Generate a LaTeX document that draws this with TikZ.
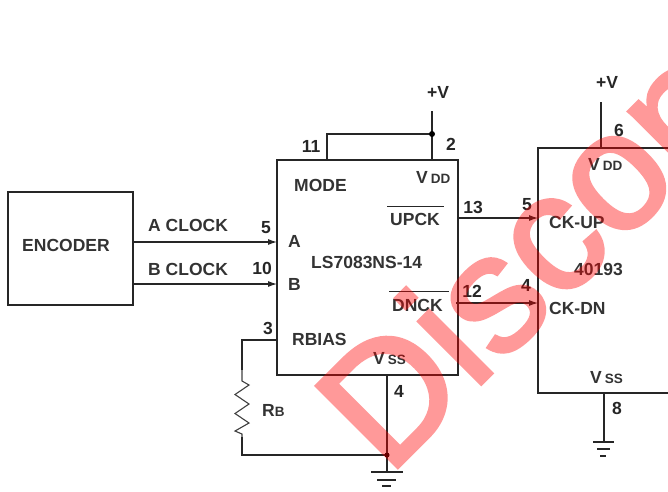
\documentclass[tikz,border=0pt]{standalone}
\usepackage{fontspec}
\setmainfont{Liberation Sans}
\newfontfamily\wmfont[FakeBold=2.2]{Liberation Sans}
\usetikzlibrary{arrows.meta}
\tikzset{
  x=1pt,y=-1pt,
  wire/.style={draw=black!85,line width=1.1pt},
  sig/.style={wire,-{Latex[length=9pt,width=6pt]}},
  boxed/.style={draw=black!85,line width=1.1pt,inner sep=0},
  lab/.style={inner sep=0,font=\fontsize{17.5}{17.5}\selectfont\bfseries,text=black!80,anchor=base west},
  pin/.style={inner sep=0,font=\fontsize{17.5}{17.5}\selectfont\bfseries,text=black!85,anchor=base},
  dotj/.style={circle,fill=black,inner sep=0,minimum size=6pt},
  gnd/.style={draw=black!85,line width=1.1pt},
  water/.style={inner sep=0,anchor=base west,rotate=45,text=red,font=\fontsize{167}{167}\wmfont},
}
\newcommand{\smallsub}[1]{{\fontsize{13.5}{13.5}\selectfont #1}}
\begin{document}
\begin{tikzpicture}
\useasboundingbox (0,0) rectangle (668,491);
\clip (0,0) rectangle (668,491);
% boxes
\node[boxed,minimum width=125pt,minimum height=113pt] (enc) at (70.5,248.5) {};
\node[lab,anchor=base] (enctxt) at (66,251) {ENCODER};
\node[boxed,minimum width=181pt,minimum height=215pt] (ic1) at (367.5,267.5) {};
\node[boxed,minimum width=300pt,minimum height=245pt] (ic2) at (688,270.5) {};
% coordinates on boxes
\coordinate (a1) at (133,242); \coordinate (a2) at (277,242);
\coordinate (b1) at (133,284); \coordinate (b2) at (277,284);
\coordinate (up1) at (458,218); \coordinate (up2) at (538,218);
\coordinate (dn1) at (456,303); \coordinate (dn2) at (538,303);
\coordinate (vt) at (432,111); \coordinate (vj) at (432,134); \coordinate (vb) at (432,160);
\coordinate (mb) at (327,160); \coordinate (mt) at (327,134);
\coordinate (rb1) at (277,340); \coordinate (rb2) at (242,340); \coordinate (rb3) at (242,370);
\coordinate (rb4) at (242,437); \coordinate (rb5) at (242,455);
\coordinate (ss1) at (387,375); \coordinate (ssj) at (387,455); \coordinate (ss2) at (387,472);
\coordinate (vt2) at (601,102); \coordinate (vb2) at (601,148);
\coordinate (s2a) at (604,393); \coordinate (s2b) at (604,442);
% wires
\draw[sig] (a1) -- (a2);
\draw[sig] (b1) -- (b2);
\draw[sig] (up1) -- (up2);
\draw[sig] (dn1) -- (dn2);
\draw[wire] (vt) -- (vb);
\draw[wire] (mb) -- (mt) -- (vj);
\node[dotj] (d1) at (vj) {};
\draw[wire] (rb1) -- (rb2) -- (rb3);
\draw[draw=black!75,line width=1.1pt] (rb3) -- (242,381) -- (249,385) -- (235,394.5) -- (249,404) -- (235,413.5) -- (249,423) -- (235,431) -- (242,434) -- (rb4);
\draw[wire] (rb4) -- (rb5) -- (ssj);
\draw[wire] (ss1) -- (ss2);
\node[dotj,minimum size=5pt] (d2) at (ssj) {};
\draw[wire] (vt2) -- (vb2);
\draw[wire] (s2a) -- (s2b);
% grounds
\draw[gnd] (371,472) -- (403,472);
\draw[gnd] (377,480) -- (396,480);
\draw[gnd] (382,486) -- (391,486);
\draw[gnd] (593,442) -- (614,442);
\draw[gnd] (597,449) -- (610,449);
\draw[gnd] (600,456) -- (606,456);
% labels
\node[lab] (t1) at (148,231) {A CLOCK};
\node[lab] (t2) at (148,275) {B CLOCK};
\node[pin] (p5a) at (266,233) {5};
\node[pin] (p10) at (262,274) {10};
\node[pin] (p3) at (268,334) {3};
\node[pin] (p11) at (311,152) {11};
\node[pin] (p2) at (451,150) {2};
\node[pin] (p13) at (473,213) {13};
\node[pin] (p12) at (472,297) {12};
\node[pin] (p5b) at (527,210) {5};
\node[pin] (p4b) at (526,291) {4};
\node[pin] (p6) at (619,136) {6};
\node[pin] (p8) at (617,414) {8};
\node[pin] (p4a) at (399,397) {4};
\node[pin] (pv1) at (438,98) {+V};
\node[pin] (pv2) at (607,88) {+V};
\node[lab] (mode) at (294,191) {MODE};
\node[lab] (vdd1) at (416,183) {V\,\smallsub{DD}};
\node[lab] (upck) at (390,225) {UPCK};
\node[lab] (dnck) at (392,311) {DNCK};
\node[lab] (aa) at (288,247) {A};
\node[lab] (bb) at (288,290) {B};
\node[lab] (ls) at (311,268) {LS7083NS-14};
\node[lab] (rbias) at (292,345) {RBIAS};
\node[lab] (vss1) at (373,364) {V\,\smallsub{SS}};
\node[lab] (rb) at (262,416) {R\smallsub{B}};
\node[lab] (vdd2) at (588,170) {V\,\smallsub{DD}};
\node[lab] (ckup) at (549,228) {CK-UP};
\node[lab] (ckdn) at (549,314) {CK-DN};
\node[lab] (ic2t) at (574,275) {40193};
\node[lab] (vss2) at (590,383) {V\,\smallsub{SS}};
\draw[draw=black!85,line width=1pt] (387,206) -- (444,206);
\draw[draw=black!85,line width=1pt] (389,291) -- (449,291);
% watermark
\begin{scope}[transparency group,opacity=0.4]
\node[water] (wm) at (388,477) {Discontinued};
\end{scope}
\end{tikzpicture}
\end{document}
